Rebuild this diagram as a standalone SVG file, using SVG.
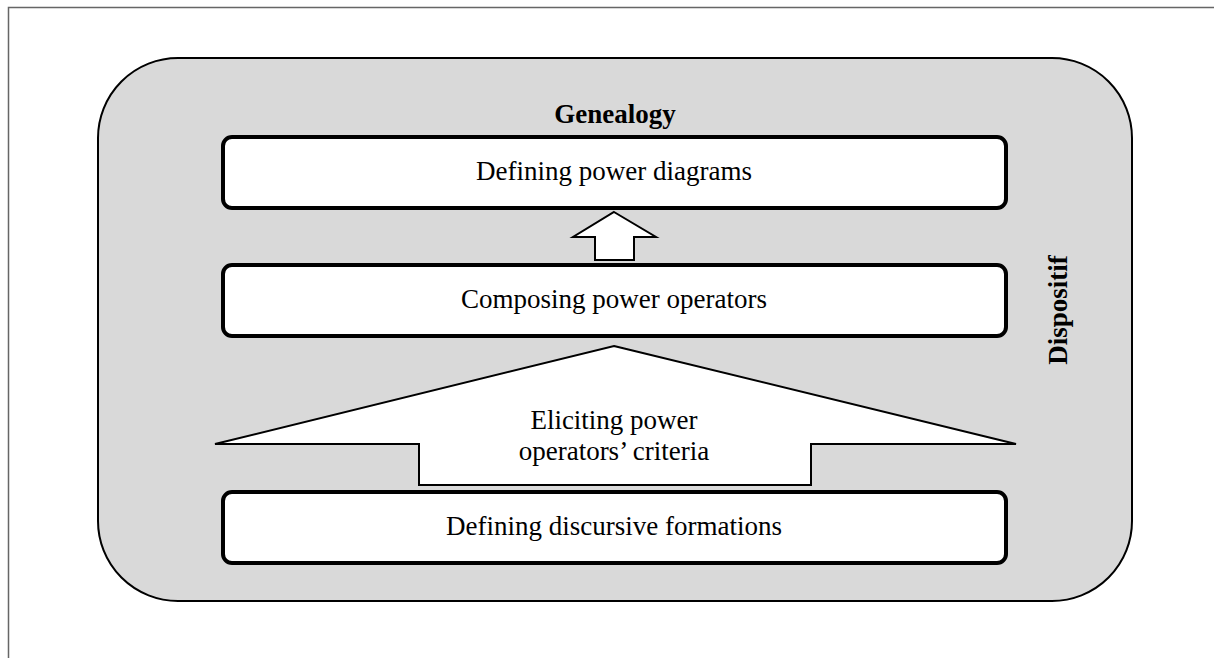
<svg xmlns="http://www.w3.org/2000/svg" width="1214" height="658" viewBox="0 0 1214 658">
<style>
text{font-family:"Liberation Serif","Times New Roman","DejaVu Serif",serif;font-size:27px;fill:#000;text-anchor:middle}
.b{font-weight:bold;font-size:27px}
.box{fill:#fff;stroke:#000;stroke-width:4}
.arr{fill:#fff;stroke:#000;stroke-width:2;stroke-linejoin:miter}
</style>
<rect x="0" y="0" width="1214" height="658" fill="#fff"/>
<path d="M8.5 658 V7.5 H1214" fill="none" stroke="#666" stroke-width="1.5"/>
<g id="dispositif">
<rect x="98" y="58" width="1034" height="543" rx="80" ry="80" fill="#d9d9d9" stroke="#000" stroke-width="2"/>
<text class="b" font-family="Liberation Serif, serif" transform="translate(1067,310) rotate(-90)">Dispositif</text>
</g>
<g id="genealogy-label"><text class="b" font-family="Liberation Serif, serif" x="615" y="123">Genealogy</text></g>
<g id="connectors">
<polygon class="arr" points="614,212 656,237 634,237 634,260 595,260 595,237 573,237"/>
<polygon class="arr" points="614,346 1016,444 811,444 811,485 419,485 419,444 215,444"/>
</g>
<g id="n-eliciting">
<text font-family="Liberation Serif, serif" x="614" y="429">Eliciting power</text>
<text font-family="Liberation Serif, serif" x="614" y="460">operators’ criteria</text>
</g>
<g id="n-diagrams">
<rect class="box" x="223" y="137" width="783" height="71" rx="9"/>
<text font-family="Liberation Serif, serif" x="614" y="180">Defining power diagrams</text>
</g>
<g id="n-operators">
<rect class="box" x="223" y="265" width="783" height="71" rx="9"/>
<text font-family="Liberation Serif, serif" x="614" y="308">Composing power operators</text>
</g>
<g id="n-discursive">
<rect class="box" x="223" y="492" width="783" height="71" rx="9"/>
<text font-family="Liberation Serif, serif" x="614" y="535">Defining discursive formations</text>
</g>
</svg>
